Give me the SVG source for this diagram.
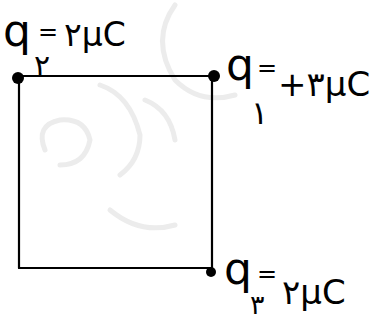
<svg xmlns="http://www.w3.org/2000/svg" width="370" height="324" viewBox="0 0 370 324">
<style>
.edge{stroke:#000;stroke-width:2.2;fill:none;stroke-linecap:round}
.dot{fill:#000}
.t{font-family:"DejaVu Sans",sans-serif;fill:#000}
.wm{stroke:#ececec;stroke-width:5;fill:none;stroke-linecap:round}
</style>
<rect width="370" height="324" fill="#fff"/>
<g id="watermark">
<path class="wm" d="M175 5 Q150 40 175 80 Q200 105 235 95"/>
<path class="wm" d="M100 85 Q130 95 140 135 Q140 160 120 175"/>
<path class="wm" d="M45 150 Q35 125 60 120 Q85 118 90 140 Q85 165 60 165"/>
<path class="wm" d="M145 100 Q170 110 175 140"/>
<path class="wm" d="M110 210 Q140 235 175 225"/>
</g>
<g id="connectors">
<line class="edge" x1="18" y1="76" x2="212" y2="76"/>
<line class="edge" x1="19" y1="76" x2="19" y2="268"/>
<line class="edge" x1="19" y1="268" x2="211" y2="268"/>
<line class="edge" x1="212" y1="76" x2="212" y2="270"/>
</g>
<g id="q2">
<circle class="dot" cx="18" cy="78" r="6"/>
<text class="t" x="3" y="46" font-size="44">q</text>
<text class="t" x="38" y="40" font-size="24">=</text>
<text class="t" x="34" y="76" font-size="30">۲</text>
<text class="t" x="64" y="46" font-size="33">۲μC</text>
</g>
<g id="q1">
<circle class="dot" cx="214" cy="76" r="6"/>
<text class="t" x="226" y="80" font-size="44">q</text>
<text class="t" x="257" y="76" font-size="24">=</text>
<text class="t" x="251" y="124" font-size="32">۱</text>
<text class="t" x="278" y="96" font-size="34">+۳μC</text>
</g>
<g id="q3">
<circle class="dot" cx="211" cy="272" r="5"/>
<text class="t" x="224" y="284" font-size="44">q</text>
<text class="t" x="257" y="282" font-size="24">=</text>
<text class="t" x="250" y="314" font-size="27">۳</text>
<text class="t" x="282" y="304" font-size="34">۲μC</text>
</g>
</svg>
